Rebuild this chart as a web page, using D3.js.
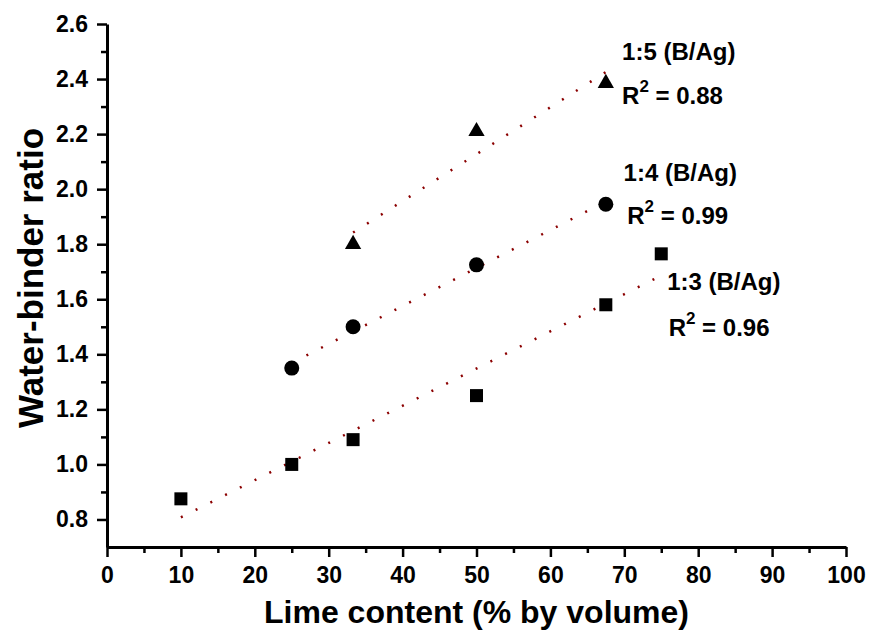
<!DOCTYPE html>
<html>
<head>
<meta charset='utf-8' />
<title>Water-binder ratio vs lime content</title>
<script src="https://d3js.org/d3.v7.min.js"></script>
<style>
body { margin: 0; padding: 0; background: #fff; }
svg text { font-family: Arial, 'Liberation Sans', sans-serif; font-weight: bold; fill: #000; }
.axis path, .axis line { stroke: #000; }
</style>
</head>
<body>
<div id='chart'></div>
<script>

// data
var lime13 = [10, 25, 33.3, 50, 67.5, 75];
var wb13   = [0.875, 1.0, 1.09, 1.25, 1.58, 1.765];
var lime14 = [25, 33.3, 50, 67.5];
var wb14   = [1.35, 1.50, 1.725, 1.945];
var lime15 = [33.3, 50, 67.5];
var wb15   = [1.80, 2.21, 2.385];

var xTicks = [0, 10, 20, 30, 40, 50, 60, 70, 80, 90, 100];
var yTicks = [0.8, 1.0, 1.2, 1.4, 1.6, 1.8, 2.0, 2.2, 2.4, 2.6];

var labels = [
  {name: "1:5 (B/Ag)", r2: "0.88", x: 69.7, y: 2.469, rx: 69.7, ry: 2.309},
  {name: "1:4 (B/Ag)", r2: "0.99", x: 69.9, y: 2.03, rx: 70.4, ry: 1.873},
  {name: "1:3 (B/Ag)", r2: "0.96", x: 75.8, y: 1.633, rx: 76.0, ry: 1.467}
];

var W = 869, H = 631;
var margin = {top: 24, right: 23, bottom: 84, left: 107},
    width = W - margin.left - margin.right,
    height = H - margin.top - margin.bottom;

var svg = d3.select("#chart")
  .append("svg")
    .attr("width", W)
    .attr("height", H)
  .append("g")
    .attr("transform", "translate(" + margin.left + "," + margin.top + ")");

var x = d3.scaleLinear().domain([0, 100]).range([0, width]);
var y = d3.scaleLinear().domain([0.7, 2.6]).range([height, 0]);

//////////
// AXIS //
//////////

// minor ticks first, then majors with labels
svg.append("g")
  .attr("class", "axis")
  .attr("transform", "translate(0," + height + ")")
  .call(d3.axisBottom(x).tickValues(d3.range(5, 100, 10)).tickSize(6).tickFormat(""))
  .call(function(g) { g.select(".domain").remove(); })
  .selectAll("line").attr("stroke-width", 2.5);

var xAxis = svg.append("g")
  .attr("class", "axis")
  .attr("transform", "translate(0," + height + ")")
  .call(d3.axisBottom(x).tickValues(xTicks).tickSize(10).tickSizeOuter(0).tickPadding(10).tickFormat(d3.format("d")));
xAxis.select(".domain").attr("stroke-width", 3);
xAxis.selectAll("line").attr("stroke-width", 2.5);
xAxis.selectAll("text").style("font-size", "23px");

svg.append("g")
  .attr("class", "axis")
  .call(d3.axisLeft(y).tickValues(d3.range(0.9, 2.6, 0.2)).tickSize(6).tickFormat(""))
  .call(function(g) { g.select(".domain").remove(); })
  .selectAll("line").attr("stroke-width", 2.5);

var yAxis = svg.append("g")
  .attr("class", "axis")
  .call(d3.axisLeft(y).tickValues(yTicks).tickSize(10).tickSizeOuter(0).tickPadding(9).tickFormat(d3.format(".1f")));
yAxis.select(".domain").attr("stroke-width", 3);
yAxis.selectAll("line").attr("stroke-width", 2.5);
yAxis.selectAll("text").style("font-size", "23px");

svg.append("text")
  .attr("text-anchor", "middle")
  .attr("x", width / 2)
  .attr("y", height + 76)
  .style("font-size", "32px")
  .text("Lime content (% by volume)");

svg.append("text")
  .attr("text-anchor", "middle")
  .attr("transform", "translate(" + (43 - margin.left) + "," + (278 - margin.top) + ") rotate(-90)")
  .style("font-size", "35px")
  .text("Water-binder ratio");

//////////
// TREND LINES //
//////////

function fit(xs, ys) {
  var mx = d3.mean(xs), my = d3.mean(ys);
  var sxy = d3.sum(xs, function(v, i) { return (v - mx) * (ys[i] - my); });
  var sxx = d3.sum(xs, function(v) { return (v - mx) * (v - mx); });
  var b = sxy / sxx, a = my - b * mx;
  var x0 = d3.min(xs), x1 = d3.max(xs);
  return [[x0, a + b * x0], [x1, a + b * x1]];
}

var line = d3.line()
  .x(function(d) { return x(d[0]); })
  .y(function(d) { return y(d[1]); });

[[lime13, wb13], [lime14, wb14], [lime15, wb15]].forEach(function(s) {
  svg.append("path")
    .attr("d", line(fit(s[0], s[1])))
    .attr("fill", "none")
    .attr("stroke", "#8b0000")
    .attr("stroke-width", 2.5)
    .attr("stroke-dasharray", "2,14.5");
});

//////////
// POINTS //
//////////

function pts(xs, ys) { return xs.map(function(v, i) { return [v, ys[i]]; }); }

svg.selectAll("rect.sq")
  .data(pts(lime13, wb13))
  .enter().append("rect")
    .attr("class", "sq")
    .attr("x", function(d) { return x(d[0]) - 6.5; })
    .attr("y", function(d) { return y(d[1]) - 6.5; })
    .attr("width", 13)
    .attr("height", 13)
    .attr("fill", "#000");

svg.selectAll("circle.ci")
  .data(pts(lime14, wb14))
  .enter().append("circle")
    .attr("class", "ci")
    .attr("cx", function(d) { return x(d[0]); })
    .attr("cy", function(d) { return y(d[1]); })
    .attr("r", 7.5)
    .attr("fill", "#000");

var tri = d3.symbol().type(d3.symbolTriangle).size(115);
svg.selectAll("path.tr")
  .data(pts(lime15, wb15))
  .enter().append("path")
    .attr("class", "tr")
    .attr("d", tri)
    .attr("transform", function(d) { return "translate(" + x(d[0]) + "," + y(d[1]) + ")"; })
    .attr("fill", "#000");

//////////
// LABELS //
//////////

labels.forEach(function(l) {
  svg.append("text")
    .attr("x", x(l.x))
    .attr("y", y(l.y))
    .style("font-size", "24px")
    .text(l.name);
  var t = svg.append("text")
    .attr("x", x(l.rx))
    .attr("y", y(l.ry))
    .style("font-size", "24px");
  t.append("tspan").text("R");
  t.append("tspan").attr("dy", -12).style("font-size", "17px").text("2");
  t.append("tspan").attr("dy", 12).text(" = " + l.r2);
});

</script>
</body>
</html>
